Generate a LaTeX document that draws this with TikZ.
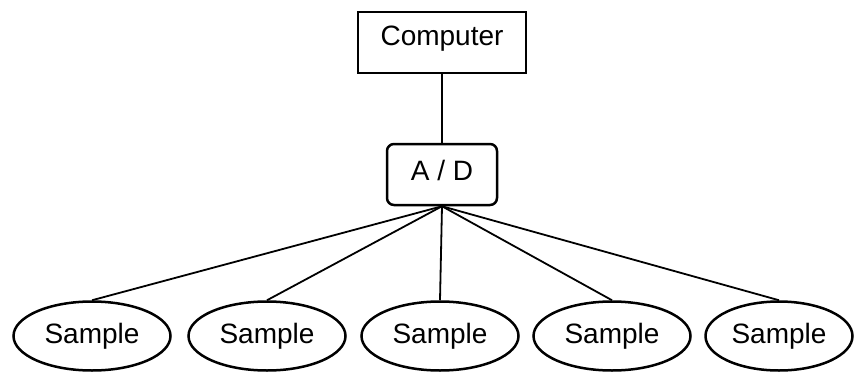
\documentclass[tikz,border=0pt]{standalone}
\usepackage{fontspec}
\setmainfont{Liberation Sans}
\usetikzlibrary{shapes.geometric}
\begin{document}
\begin{tikzpicture}[x=1pt,y=-1pt,
  every node/.style={font=\fontsize{28}{34}\selectfont},
  boxnode/.style={draw,line width=2.5pt,inner sep=0pt},
  samplenode/.style={draw,ellipse,line width=2.5pt,inner sep=0pt,minimum width=157pt,minimum height=69pt},
  wire/.style={line width=1.8pt}]
\useasboundingbox (0,0) rectangle (854,372);
\clip (0,0) rectangle (854,372);
\node[boxnode,minimum width=168pt,text height=33pt,text depth=28pt] (comp) at (442,42.5) {Computer};
\node[boxnode,rounded corners=7pt,minimum width=110pt,text height=36pt,text depth=25pt] (ad) at (442,174.5) {A / D};
\node[samplenode] (s1) at (92,336) {Sample};
\node[samplenode] (s2) at (267,336) {Sample};
\node[samplenode] (s3) at (440,336) {Sample};
\node[samplenode] (s4) at (612,336) {Sample};
\node[samplenode,minimum width=147pt] (s5) at (779,336) {Sample};
\draw[wire] (comp.south) -- (ad.north);
\foreach \s in {s1,s2,s3,s4,s5} \draw[wire] (ad.south) -- (\s.north);
\end{tikzpicture}
\end{document}
